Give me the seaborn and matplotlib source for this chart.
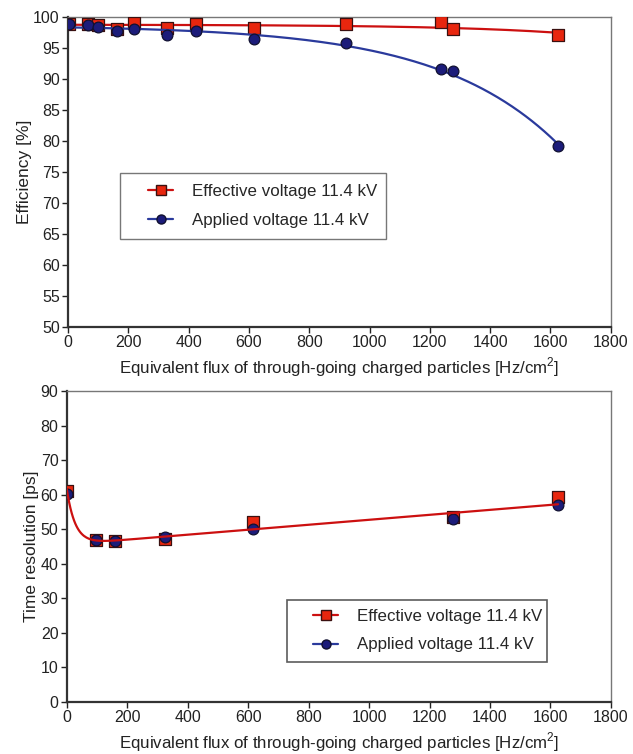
import numpy as np
import pandas as pd
import matplotlib
matplotlib.use("Agg")
import matplotlib.pyplot as plt
from matplotlib.lines import Line2D
from matplotlib.legend_handler import HandlerLine2D
import seaborn as sns

# ---- data ----
flux_eff = [3, 65, 100, 163, 220, 327, 425, 617, 923, 1236, 1278, 1624]
eff_effective = [98.9, 99.0, 98.8, 98.2, 99.1, 98.3, 98.9, 98.3, 99.0, 99.3, 98.2, 97.2]
eff_applied = [98.9, 98.8, 98.4, 97.8, 98.1, 97.2, 97.8, 96.6, 95.8, 91.6, 91.3, 79.3]

flux_time = [2, 96, 160, 325, 617, 1278, 1625]
time_effective = [61.2, 46.9, 46.6, 47.1, 52.0, 53.5, 59.3]
time_applied = [60.2, 47.0, 46.6, 47.9, 50.0, 53.0, 57.0]

label_eff = "Effective voltage 11.4 kV"
label_app = "Applied voltage 11.4 kV"
xlabel = "Equivalent flux of through-going charged particles [Hz/cm$^2$]"

sns.set_style("white")
plt.rcParams['font.family'] = ['Liberation Sans', 'DejaVu Sans']
plt.rcParams['mathtext.fontset'] = 'custom'
plt.rcParams['mathtext.rm'] = 'Liberation Sans'

RED_FACE = "#e8260e"
RED_LINE = "#cc1010"
BLUE_FACE = "#1c1c7a"
BLUE_LINE = "#2a3a9c"

fig = plt.figure(figsize=(6.33, 7.54), dpi=100)
ax1 = fig.add_axes([0.1074, 0.5663, 0.8574, 0.4105])
ax2 = fig.add_axes([0.1054, 0.0694, 0.8598, 0.4115])


def fit_exp_rise(x, y, tau):
    x = np.asarray(x, float); y = np.asarray(y, float)
    A = np.column_stack([np.ones_like(x), np.exp(x / tau)])
    coef, *_ = np.linalg.lstsq(A, y, rcond=None)
    return lambda g: coef[0] + coef[1] * np.exp(g / tau)


def fit_drop_lin(x, y, tau):
    x = np.asarray(x, float); y = np.asarray(y, float)
    A = np.column_stack([np.ones_like(x), x, np.exp(-x / tau)])
    coef, *_ = np.linalg.lstsq(A, y, rcond=None)
    return lambda g: coef[0] + coef[1] * g + coef[2] * np.exp(-g / tau)


# ---- top panel ----
grid = np.linspace(0, max(flux_eff), 400)
f_eff = fit_exp_rise(flux_eff, eff_effective, 400)
f_app = fit_exp_rise(flux_eff, eff_applied, 400)

sns.lineplot(x=grid, y=f_eff(grid), ax=ax1, color=RED_LINE, lw=1.6, zorder=2)
sns.scatterplot(x=flux_eff, y=eff_effective, ax=ax1, marker='s', s=72,
                color=RED_FACE, edgecolor="#3a1010", linewidth=0.9, zorder=3)
sns.lineplot(x=grid, y=f_app(grid), ax=ax1, color=BLUE_LINE, lw=1.6, zorder=4)
sns.scatterplot(x=flux_eff, y=eff_applied, ax=ax1, marker='o', s=60,
                color=BLUE_FACE, edgecolor="#101030", linewidth=0.9, zorder=5)

ax1.set_xlim(0, 1800)
ax1.set_ylim(50, 100)
ax1.set_xticks(range(0, 1801, 200))
ax1.set_yticks(range(50, 101, 5))
ax1.set_ylabel("Efficiency [%]", fontsize=12.5, labelpad=1)
ax1.set_xlabel(xlabel, fontsize=12.2)

# ---- bottom panel ----
grid2 = np.linspace(0, max(flux_time), 400)
mean_time = [(a + b) / 2 for a, b in zip(time_effective, time_applied)]
f_time = fit_drop_lin(flux_time, mean_time, 28)

sns.scatterplot(x=flux_time, y=time_effective, ax=ax2, marker='s', s=72,
                color=RED_FACE, edgecolor="#3a1010", linewidth=0.9, zorder=3)
sns.scatterplot(x=flux_time, y=time_applied, ax=ax2, marker='o', s=60,
                color=BLUE_FACE, edgecolor="#101030", linewidth=0.9, zorder=4)
sns.lineplot(x=grid2, y=f_time(grid2), ax=ax2, color=RED_LINE, lw=1.6, zorder=5)

ax2.set_xlim(0, 1800)
ax2.set_ylim(0, 90)
ax2.set_xticks(range(0, 1801, 200))
ax2.set_yticks(range(0, 91, 10))
ax2.set_ylabel("Time resolution [ps]", fontsize=12.5, labelpad=1)
ax2.set_xlabel(xlabel, fontsize=12.2)

handles = [
    Line2D([0], [0], color=RED_LINE, lw=1.6, marker='s', markersize=7.5,
           markerfacecolor=RED_FACE, markeredgecolor="#3a1010"),
    Line2D([0], [0], color=BLUE_LINE, lw=1.6, marker='o', markersize=6.5,
           markerfacecolor=BLUE_FACE, markeredgecolor="#101030"),
]
hmap = {h: HandlerLine2D(xpad=1.0) for h in handles}

for ax in (ax1, ax2):
    ax.tick_params(axis='both', which='both', direction='out', length=4,
                   width=1, labelsize=11.5, colors='#222222',
                   bottom=True, left=True, top=False, right=False, pad=2)
    for s in ('left', 'bottom'):
        ax.spines[s].set_color('#333333')
        ax.spines[s].set_linewidth(1.6)
    for s in ('top', 'right'):
        ax.spines[s].set_color('#777777')
        ax.spines[s].set_linewidth(1.0)
    ax.xaxis.label.set_color('#222222')
    ax.yaxis.label.set_color('#222222')

leg1 = ax1.legend(handles, [label_eff, label_app], loc='upper left',
                  bbox_to_anchor=(0.096, 0.498, 0.49, 0.0), mode='expand',
                  borderaxespad=0, handler_map=hmap,
                  fontsize=12.2, frameon=True, fancybox=False,
                  edgecolor='#555555', handlelength=2.5, labelspacing=0.85,
                  borderpad=0.65, handletextpad=1.1)
leg1.get_frame().set_linewidth(1.0)

leg2 = ax2.legend(handles, [label_eff, label_app], loc='upper left',
                  bbox_to_anchor=(0.404, 0.329, 0.478, 0.0), mode='expand',
                  borderaxespad=0, handler_map=hmap,
                  fontsize=12.2, frameon=True, fancybox=False,
                  edgecolor='#333333', handlelength=2.5, labelspacing=0.8,
                  borderpad=0.55, handletextpad=1.1)
leg2.get_frame().set_linewidth(1.2)

fig.savefig("out.png", dpi=100)
